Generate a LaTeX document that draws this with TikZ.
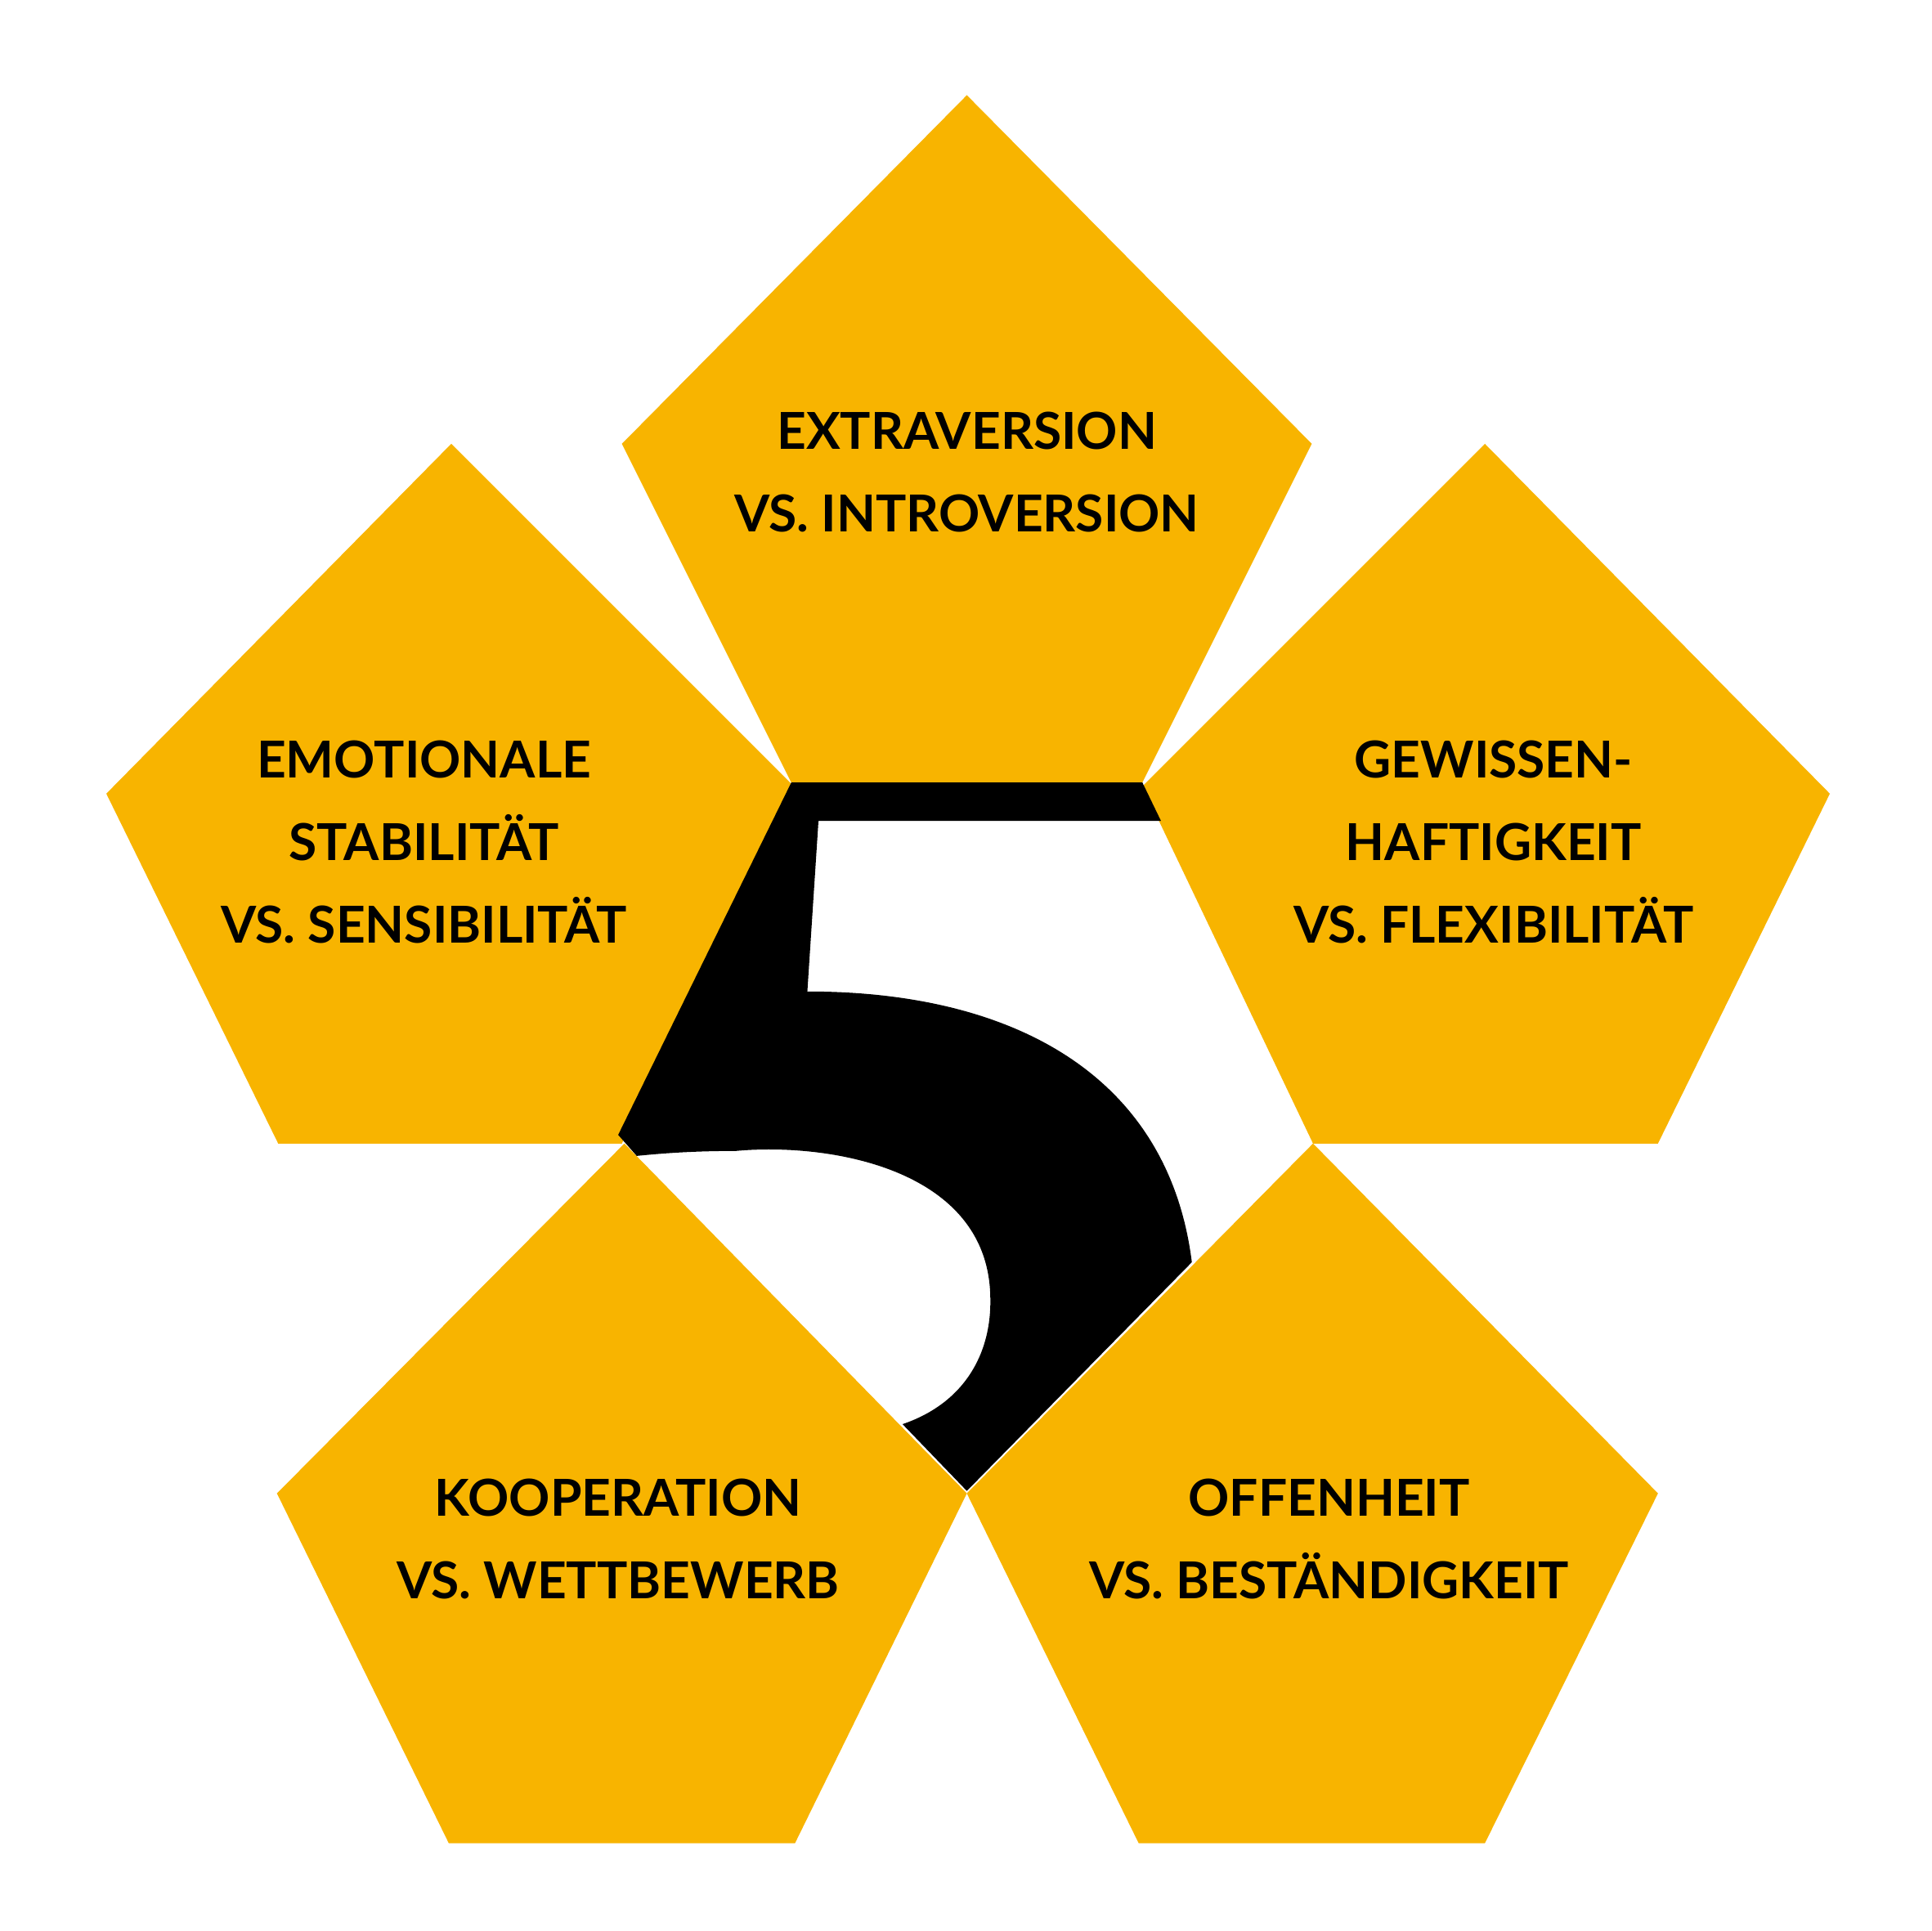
\documentclass[tikz,border=0pt]{standalone}
\usepackage{fontspec}
\setmainfont{Lato}
\definecolor{gold}{HTML}{F8B400}
\begin{document}
\begin{tikzpicture}[x=0.0128cm,y=-0.0128cm,
  pent/.style={fill=gold,draw=none},
  lbl/.style={font=\fontsize{15}{24.4}\selectfont\bfseries,align=center,text=black,inner sep=0pt}]
\useasboundingbox (0,0) rectangle (1562,1562);
\fill[pent] (782,77) -- (1061,359) -- (924,633) -- (640,633) -- (503,359) -- cycle;
\fill[pent] (365,359) -- (642,636) -- (503,925) -- (225,925) -- (86,642) -- cycle;
\fill[pent] (1201,359) -- (1480,642) -- (1341,925) -- (1062,925) -- (924,636) -- cycle;
\fill[pent] (505,925) -- (782,1208) -- (643,1491) -- (363,1491) -- (224,1208) -- cycle;
\fill[pent] (1062,925) -- (1341,1208) -- (1201,1491) -- (921,1491) -- (782,1208) -- cycle;
\fill[black] (640,633) -- (924,633) -- (939,664) -- (662,664) -- (653,802)
  .. controls (820,802) and (945,870) .. (964,1021)
  -- (782,1206) -- (730,1152)
  .. controls (780,1135) and (802,1095) .. (801,1050)
  .. controls (800,945) and (670,924) .. (595,931)
  .. controls (560,931) and (535,933) .. (515,935)
  -- (500,918) -- cycle;
\node[lbl] (e) at (782,382) {EXTRAVERSION\\VS. INTROVERSION};
\node[lbl] (s) at (343,681) {EMOTIONALE\\STABILITÄT\\VS. SENSIBILITÄT};
\node[lbl] (g) at (1208,681) {GEWISSEN-\\HAFTIGKEIT\\VS. FLEXIBILITÄT};
\node[lbl] (k) at (500,1245) {KOOPERATION\\VS. WETTBEWERB};
\node[lbl] (o) at (1075,1245) {OFFENHEIT\\VS. BESTÄNDIGKEIT};
\end{tikzpicture}
\end{document}
